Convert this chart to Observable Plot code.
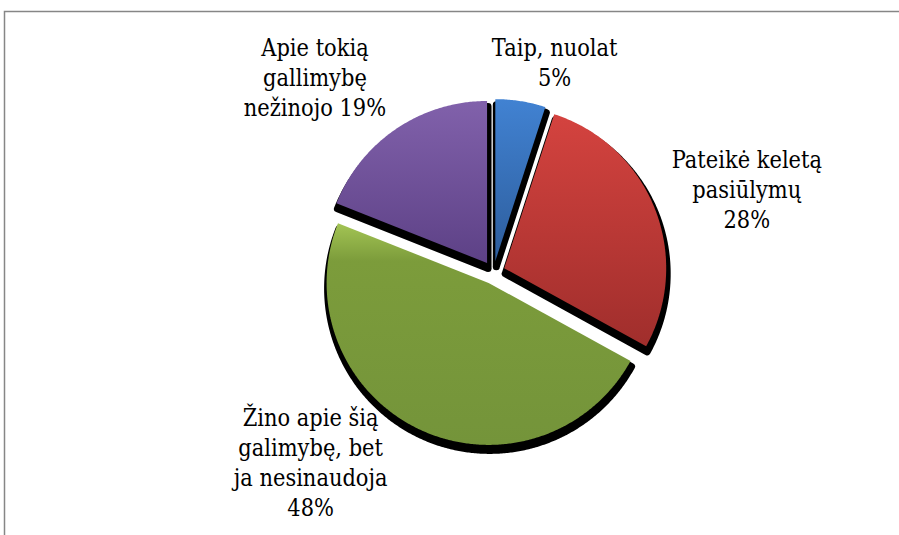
<!DOCTYPE html>
<html>
<head>
<meta charset="utf-8">
<script src="https://cdn.jsdelivr.net/npm/d3@7"></script>
<script src="https://cdn.jsdelivr.net/npm/@observablehq/plot@0.6"></script>
<style>
  html, body { margin: 0; padding: 0; background: #ffffff; }
  #chart { width: 899px; height: 535px; overflow: hidden; }
</style>
</head>
<body>
<div id="chart"></div>
<script>
// ---- data ----
const categories = [
  "Taip, nuolat",
  "Pateikė keletą\npasiūlymų",
  "Žino apie šią\ngalimybę, bet\nja nesinaudoja",
  "Apie tokią\ngallimybę\nnežinojo"
];
const values = [5, 28, 48, 19];
const percentSeparators = ["\n", "\n", "\n", " "];

// ---- styles / layout ----
const gradientStops = [
  [[0, "#4182d2"], [1, "#2d5d9c"]],
  [[0, "#d4433f"], [1, "#a02e2c"]],
  [[0, "#a3c454"], [0.17, "#7c9c3b"], [1, "#74943a"]],
  [[0, "#8161ab"], [1, "#5d4186"]]
];
const labelOffsets = [[34, -40], [92, -20], [-109, 32], [-81, -53]];
const explode = 0.071;          // fraction of radius
const center = [493, 272], radius = 162;
const labelFont = "DejaVu Serif";
const labelSize = 25, labelSqueeze = 0.84;

// ---- geometry from data ----
const total = d3.sum(values);
let acc = 0;
const slices = values.map((v, i) => {
  const a0 = acc / total * 2 * Math.PI;
  acc += v;
  const a1 = acc / total * 2 * Math.PI;
  return {i, value: v, a0, a1, mid: (a0 + a1) / 2};
});
function slicePoints(s) {
  const ox = explode * Math.sin(s.mid), oy = explode * Math.cos(s.mid);
  const pts = [{x: ox, y: oy}];
  const n = Math.max(10, Math.ceil((s.a1 - s.a0) / (Math.PI / 360)));
  for (let k = 0; k <= n; k++) {
    const a = s.a0 + (s.a1 - s.a0) * k / n;
    pts.push({x: ox + Math.sin(a), y: oy + Math.cos(a)});
  }
  pts.push({x: ox, y: oy});
  return pts;
}

const defsMark = () => {
  const defs = d3.create("svg:defs");
  gradientStops.forEach((stops, i) => {
    const g = defs.append("linearGradient")
      .attr("id", "sliceGrad" + i)
      .attr("x1", 0).attr("y1", 0).attr("x2", 0).attr("y2", 1);
    stops.forEach(([o, c]) => g.append("stop").attr("offset", o).attr("stop-color", c));
  });
  return defs.node();
};

const shadowMarks = slices.map(s => Plot.line(slicePoints(s), {
  x: "x", y: "y", fill: "black", stroke: "black", strokeWidth: 7,
  strokeLinejoin: "round", strokeLinecap: "round", dx: 1, dy: 5.5
}));
const fillMarks = slices.map(s => Plot.line(slicePoints(s), {
  x: "x", y: "y", fill: `url(#sliceGrad${s.i})`, stroke: "none"
}));
const labelMarks = slices.map(s => Plot.text([s], {
  x: d => (1 + explode) * Math.sin(d.mid),
  y: d => (1 + explode) * Math.cos(d.mid),
  text: d => categories[d.i] + percentSeparators[d.i] + Math.round(d.value / total * 100) + "%",
  dx: labelOffsets[s.i][0], dy: labelOffsets[s.i][1],
  textAnchor: "middle", lineAnchor: "middle", lineHeight: 1.2,
  fontSize: labelSize, fontFamily: labelFont, fill: "#000"
}));

const chart = Plot.plot({
  width: 899, height: 535,
  marginTop: 11, marginLeft: 4, marginRight: 0, marginBottom: 0,
  style: {background: "#ffffff", overflow: "hidden"},
  x: {domain: [-1, 1], range: [center[0] - radius, center[0] + radius], axis: null},
  y: {domain: [-1, 1], range: [center[1] + radius, center[1] - radius], axis: null},
  marks: [
    defsMark,
    Plot.frame({stroke: "#868686", strokeWidth: 1.5, insetRight: -6, insetBottom: -6}),
    ...shadowMarks,
    ...fillMarks,
    ...labelMarks
  ]
});

// narrow the serif labels horizontally so they match the Times-like face
d3.select(chart).selectAll("text").each(function () {
  const t = this.getAttribute("transform");
  if (t) {
    this.setAttribute("transform", t + ` scale(${labelSqueeze},1)`);
  } else {
    const x = +this.getAttribute("x") || 0, y = +this.getAttribute("y") || 0;
    this.setAttribute("transform", `translate(${x},${y}) scale(${labelSqueeze},1) translate(${-x},${-y})`);
  }
});
document.getElementById("chart").appendChild(chart);
</script>
</body>
</html>
